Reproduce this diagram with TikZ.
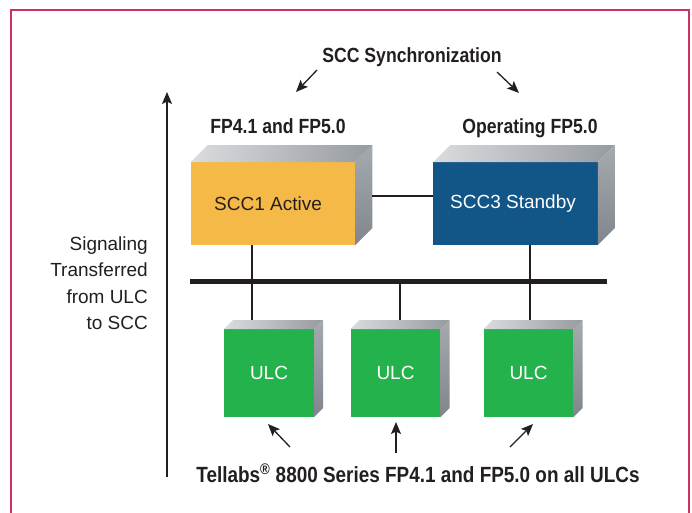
\documentclass[tikz,border=0pt]{standalone}
\usepackage{fontspec}
\setmainfont{Liberation Sans}
\newfontfamily\headfont[FakeStretch=0.86]{Liberation Sans}
\usetikzlibrary{arrows.meta,calc}

\definecolor{framepink}{RGB}{204,51,92}
\definecolor{ink}{RGB}{35,31,32}
\definecolor{sccorange}{RGB}{245,185,72}
\definecolor{sccblue}{RGB}{18,85,135}
\definecolor{ulcgreen}{RGB}{36,178,76}
\definecolor{topL}{RGB}{218,220,223}
\definecolor{topR}{RGB}{150,155,161}
\definecolor{sideT}{RGB}{165,170,175}
\definecolor{sideB}{RGB}{128,134,140}

% top and right faces of a card drawn as a block
\newcommand\boxfaces[2]{%
  \shade[left color=topL,right color=topR]
    (#1.north west) -- ++(#2,-#2) -- ($(#1.north east)+(#2,-#2)$) -- (#1.north east) -- cycle;
  \shade[top color=sideT,bottom color=sideB]
    (#1.north east) -- ++(#2,-#2) -- ($(#1.south east)+(#2,-#2)$) -- (#1.south east) -- cycle;
}

\begin{document}
\begin{tikzpicture}[x=1pt,y=-1pt,
  front/.style={inner sep=0pt,outer sep=0pt,font=\fontsize{19}{22}\selectfont},
  scc/.style={front,minimum width=164.5pt,minimum height=83pt},
  ulc/.style={front,minimum width=90pt,minimum height=88pt,fill=ulcgreen,text=white},
  head/.style={inner sep=0pt,text=ink,font=\headfont\bfseries\fontsize{20.5}{24}\selectfont},
  wire/.style={draw=ink,line width=1.1pt},
  pointer/.style={draw=ink,line width=1.3pt,-{Stealth[length=12pt,width=10pt,inset=2.5pt]}},
]
\useasboundingbox (0,0) rectangle (692,512);
\fill[white] (0,0) rectangle (692,512);

% frame
\draw[framepink,line width=2pt] (11,530) -- (11,10) -- (689,10) -- (689,530);

% controller cards
\node[scc,fill=sccorange,text=ink] (scc1) at (273,203.5) {SCC1 Active\hspace*{10pt}};
\node[scc,fill=sccblue,text=white] (scc3) at (515.5,203.5) {SCC3 Standby\hspace*{5pt}};
\boxfaces{scc1}{17}
\boxfaces{scc3}{17}

% line cards
\node[ulc] (ulc1) at (269,373) {ULC};
\node[ulc] (ulc2) at (395.5,373) {ULC};
\node[ulc] (ulc3) at (528.5,373) {ULC};
\boxfaces{ulc1}{9}
\boxfaces{ulc2}{9}
\boxfaces{ulc3}{9}

% backplane bus
\coordinate (busL) at (190,281);
\coordinate (busR) at (607,281);

% connections
\draw[wire] ($(scc1.east)+(17,-7.5)$) -- ($(scc3.west)+(0,-7.5)$);
\draw[wire] ([xshift=-21pt]scc1.south) -- ($(ulc1.north)+(-17,-9)$);
\draw[wire] ([xshift=14.5pt]scc3.south) -- ($(ulc3.north)+(1.5,-9)$);
\coordinate (u2) at ($(ulc2.north)+(4.5,-9)$);
\draw[wire] (u2) -- (u2 |- busL);
\draw[ink,line width=5pt] (busL) -- (busR);

% headings
\node[head,anchor=base] (sync) at (412,62) {SCC Synchronization};
\node[head,anchor=base] (fp41) at (278,133) {FP4.1 and FP5.0};
\node[head,anchor=base] (oper) at (530,133) {Operating FP5.0};
\node[head,anchor=base,font=\headfont\bfseries\fontsize{22}{26}\selectfont] (series) at (418,482)
  {Tellabs\textsuperscript{\textregistered} 8800 Series FP4.1 and FP5.0 on all ULCs};

% pointers
\coordinate (s1a) at (317,70);  \coordinate (s1b) at (296,92);
\coordinate (s2a) at (497,72);  \coordinate (s2b) at (519,93);
\draw[pointer] (s1a) -- (s1b);
\draw[pointer] (s2a) -- (s2b);

\coordinate (b1a) at (290,447); \coordinate (b1b) at (268,424);
\coordinate (b2a) at (396,453); \coordinate (b2b) at (396,422);
\coordinate (b3a) at (510,447); \coordinate (b3b) at (533,424);
\draw[pointer] (b1a) -- (b1b);
\draw[pointer] (b2a) -- (b2b);
\draw[pointer] (b3a) -- (b3b);

% signaling direction
\coordinate (sigLow) at (167,477);
\coordinate (sigHigh) at (167,92);
\draw[pointer] (sigLow) -- (sigHigh);
\node[anchor=east,align=right,inner sep=0pt,text=ink,font=\fontsize{19}{26.5}\selectfont]
  (sig) at (148,283) {Signaling\\Transferred\\from ULC\\to SCC};
\end{tikzpicture}
\end{document}
